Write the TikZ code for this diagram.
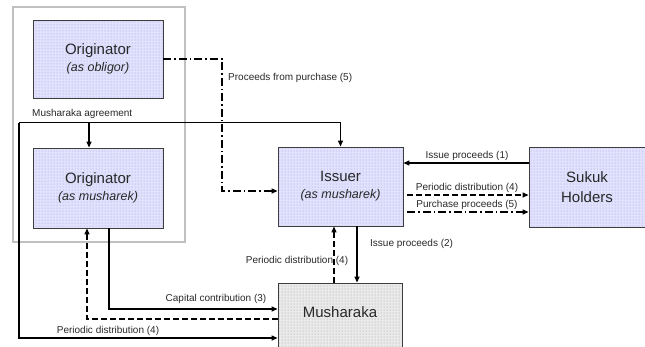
\documentclass[tikz,border=0pt]{standalone}
\usepackage{fontspec}
\setmainfont{Liberation Sans}
\usetikzlibrary{arrows.meta,patterns}
\definecolor{boxfill}{RGB}{226,226,252}
\definecolor{boxdots}{RGB}{150,150,236}
\definecolor{grayfill}{RGB}{234,234,234}
\definecolor{graydots}{RGB}{160,160,160}
\definecolor{framegray}{RGB}{192,192,192}
\definecolor{ink}{RGB}{40,40,40}
\tikzset{
  party/.style={draw=ink!90, line width=0.9pt, preaction={fill=boxfill},
    pattern=dots, pattern color=boxdots, align=center, inner sep=0pt,
    text=ink},
  poolbox/.style={draw=ink!90, line width=0.9pt, preaction={fill=grayfill},
    pattern=dots, pattern color=graydots, inner sep=0pt, text=ink},
  big/.style={font=\fontsize{15}{18}\selectfont},
  lbl/.style={font=\fontsize{10}{12}\selectfont, text=ink, inner sep=1pt},
  flow/.style={line width=1.3pt, draw=black, -{Triangle[length=6pt,width=5pt]}},
  dashflow/.style={flow, dash pattern=on 6pt off 3pt},
  dotdashflow/.style={flow, dash pattern=on 8pt off 3pt on 1.5pt off 3pt},
}
\newcommand{\subtxt}[1]{{\fontsize{12.5}{15}\selectfont\itshape #1}}
\begin{document}
\begin{tikzpicture}[x=1pt,y=-1pt]
\useasboundingbox (0,0) rectangle (645,346);
\clip (0,0) rectangle (645,346);

% grey frame around the originator
\draw[framegray, line width=1.5pt] (13,7) rectangle (185,242);

% parties
\node[party, font=\fontsize{15}{17}\selectfont, minimum width=130pt, minimum height=78pt]
  (oblig) at (98,59) {Originator\\\subtxt{(as obligor)}};
\node[party, font=\fontsize{15}{17}\selectfont, minimum width=130pt, minimum height=80pt]
  (omush) at (98,188) {Originator\\\subtxt{(as musharek)}};
\node[party, font=\fontsize{15}{17}\selectfont, minimum width=125pt, minimum height=79pt]
  (issuer) at (340.5,186.5) {Issuer\\\subtxt{(as musharek)}};
\node[party, font=\fontsize{15}{20}\selectfont, minimum width=116pt, minimum height=80pt]
  (sukuk) at (587,187) {Sukuk\\Holders};
\node[poolbox, minimum width=124pt, minimum height=69pt] (mush) at (340,317.5) {};
\node[big, text=ink, anchor=base] (mushtxt) at (340,317.5) {Musharaka};

% Musharaka agreement
\coordinate (ma) at (19,122.5);
\draw[flow] (ma) -| (issuer.north);
\draw[flow] ([xshift=-9pt]omush.north |- ma) -- ([xshift=-9pt]omush.north);
\draw[flow] (ma) |- ([yshift=-20.5pt]mush.west);
\node[lbl, anchor=base west] (lma) at (31,116.5) {Musharaka agreement};

% proceeds from purchase
\coordinate (pp) at (222,59);
\draw[dotdashflow] (oblig.east) -- (pp) |- ([yshift=-4.5pt]issuer.west);
\node[lbl, anchor=base west] (lpp) at (227,80.5) {Proceeds from purchase (5)};

% issuer and sukuk holders
\draw[flow] ([yshift=24pt]sukuk.west) -- ([yshift=24pt]sukuk.west -| issuer.east);
\draw[dashflow] ([xshift=4pt,yshift=-8pt]sukuk.west -| issuer.east) -- ([yshift=-8pt]sukuk.west);
\draw[dotdashflow] ([xshift=4pt,yshift=-25pt]sukuk.west -| issuer.east) -- ([yshift=-25pt]sukuk.west);
\node[lbl, anchor=base] (lip1) at (467,158.5) {Issue proceeds (1)};
\node[lbl, anchor=base] (lpd4a) at (467,190.5) {Periodic distribution (4)};
\node[lbl, anchor=base] (lpp5) at (467,207) {Purchase proceeds (5)};

% issuer and musharaka
\draw[flow] ([xshift=16.5pt]issuer.south) -- ([xshift=16.5pt]issuer.south |- mush.north);
\node[lbl, anchor=base west] (lip2) at (369,246.5) {Issue proceeds (2)};
\node[lbl, anchor=base] (lpd4b) at (297,263.5) {Periodic distribution (4)};
\draw[dashflow] ([xshift=-6pt]mush.north) -- ([xshift=-6pt]mush.north |- issuer.south);

% originator and musharaka
\draw[flow] ([xshift=11pt]omush.south) |- ([yshift=8.5pt]mush.west);
\draw[dashflow] ([yshift=-1.5pt]mush.west) -| ([xshift=-11pt]omush.south);
\node[lbl, anchor=base] (lcc) at (216,301.5) {Capital contribution (3)};
\node[lbl, anchor=base] (lpd4c) at (108,333.5) {Periodic distribution (4)};
\end{tikzpicture}
\end{document}
